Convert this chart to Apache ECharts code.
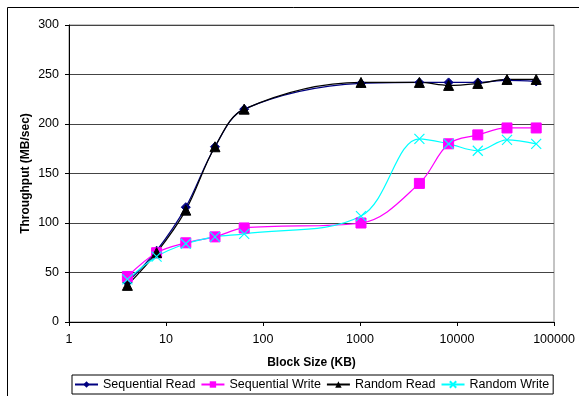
<!DOCTYPE html>
<html><head><meta charset="utf-8">
<script src="https://cdn.jsdelivr.net/npm/echarts@6/dist/echarts.min.js"></script>
<style>html,body{margin:0;padding:0;background:#fff}#c{width:579px;height:396px}</style>
</head><body><div id="c"></div>
<script>
const blockSizes = [4, 8, 16, 32, 64, 1024, 4096, 8192, 16384, 32768, 65536];
const seqRead  = [40, 72, 116, 177, 215, 241, 242, 242, 242, 244, 243];
const seqWrite = [46, 70, 80, 86, 95, 100, 140, 180, 189, 196, 196];
const randRead = [37, 70, 113, 177, 215, 242, 242, 239, 241, 245, 245];
const randWrite= [43, 66, 79, 86, 89, 107, 185, 180, 173, 184, 180];
const seriesNames = ['Sequential Read', 'Sequential Write', 'Random Read', 'Random Write'];

const pairs = v => blockSizes.map((x, i) => [x, v[i]]);
const font = 'Liberation Sans, Arial, sans-serif';
const xPath = 'path://M0,0 L10,10 M10,0 L0,10';
const chart = echarts.init(document.getElementById('c'), null, {renderer: 'canvas'});
function mk(name, vals, color, symbol, size, extra) {
  return Object.assign({
    name, type: 'line', data: pairs(vals), smooth: 0.35,
    symbol, symbolSize: size, showSymbol: true,
    lineStyle: {color, width: 1.2}, itemStyle: {color, borderColor: color},
    emphasis: {disabled: true}, animation: false, z: 3
  }, extra || {});
}
chart.setOption({
  animation: false,
  textStyle: {fontFamily: font},
  graphic: [{type: 'rect', shape: {x: 7.5, y: 7.5, width: 600, height: 420}, style: {fill: 'none', stroke: '#000', lineWidth: 1}, z: -1}],
  grid: {left: 69, top: 25, right: 25, bottom: 74, show: true, borderColor: '#888', borderWidth: 1, backgroundColor: '#fff'},
  legend: {
    data: seriesNames,
    left: 72, top: 375, itemWidth: 23, itemHeight: 8, itemGap: 5,
    borderColor: '#000', borderWidth: 1, padding: [3, 4, 3, 2],
    textStyle: {fontSize: 12.5, color: '#000', fontFamily: font}
  },
  xAxis: {
    type: 'log', min: 1, max: 100000, logBase: 10,
    name: 'Block Size (KB)', nameLocation: 'middle', nameGap: 35,
    nameTextStyle: {fontWeight: 'bold', fontSize: 12, color: '#000', fontFamily: font},
    axisLine: {onZero: false, lineStyle: {color: '#000', width: 1}},
    axisTick: {show: true, inside: false, length: 4, lineStyle: {color: '#000'}},
    minorTick: {show: false},
    axisLabel: {fontSize: 12.5, color: '#000', margin: 11, fontFamily: font, formatter: v => String(Math.round(v))},
    splitLine: {show: false}
  },
  yAxis: {
    type: 'value', min: 0, max: 300, interval: 50,
    name: 'Throughput (MB/sec)', nameLocation: 'middle', nameGap: 37, nameRotate: 90,
    nameMoveOverlap: false,
    nameTextStyle: {fontWeight: 'bold', fontSize: 12, color: '#000', fontFamily: font},
    axisLine: {show: true, lineStyle: {color: '#000', width: 1}},
    axisTick: {show: true, length: 4, lineStyle: {color: '#000'}},
    axisLabel: {fontSize: 12.5, color: '#000', margin: 10, fontFamily: font},
    splitLine: {show: true, lineStyle: {color: '#444', width: 1}}
  },
  series: [
    mk(seriesNames[0], seqRead, '#000080', 'diamond', 9),
    mk(seriesNames[1], seqWrite, '#FF00FF', 'rect', 10),
    mk(seriesNames[2], randRead, '#000000', 'triangle', 10),
    mk(seriesNames[3], randWrite, '#00FFFF', xPath, 10, {itemStyle: {color: 'none', borderColor: '#00FFFF', borderWidth: 1.2}})
  ]
});
</script></body></html>
